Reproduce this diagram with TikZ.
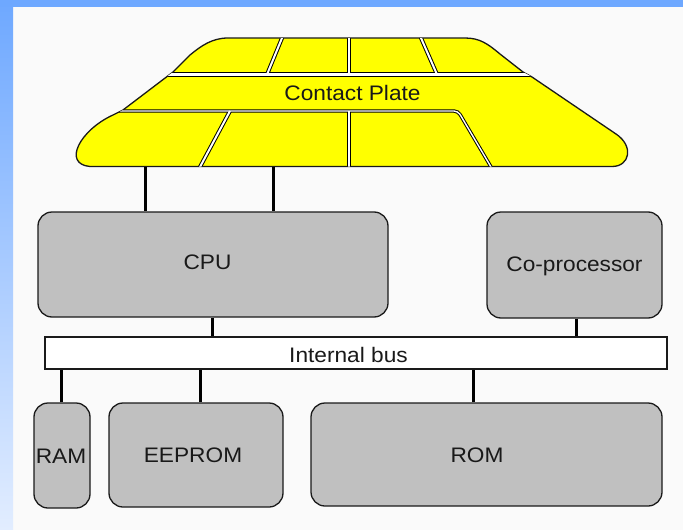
\documentclass[tikz,border=0pt]{standalone}
\usepackage{fontspec}
\setmainfont{Liberation Sans}[FakeStretch=1.08]
\definecolor{pagebg}{HTML}{FAFAFA}
\definecolor{frameblue}{HTML}{6EA8FF}
\definecolor{framepale}{HTML}{E2EDFF}
\definecolor{chipgray}{HTML}{C0C0C0}
\definecolor{plateyellow}{HTML}{FFFF00}
\definecolor{inkline}{HTML}{1A1A1A}

% outline of the smart-card contact plate
\newcommand\platepath{(228,38) .. controls (212,38) and (201,46) .. (190,55)
  -- (173,72) -- (123,110) -- (113,115)
  .. controls (80,130) and (62,164) .. (90,166.5) -- (612,166.5)
  .. controls (630,166.5) and (634,146) .. (616,134)
  -- (532,77) -- (523,72) -- (500,54)
  .. controls (488,44) and (480,38) .. (465,38) -- cycle}

% gaps separating the individual contact pads
\newcommand\platedividers{%
  \draw[gapmid] (285.3,30) -- (267,74.5);
  \draw[gapmid] (349,30) -- (349,74.5);
  \draw[gapmid] (417.5,30) -- (437,74.5);
  \draw[gapmid] (230,111) -- (193,180);
  \draw[gapmid] (349,111) -- (349,180);
  \draw[gapwide] (60,74.5) -- (620,74.5);
  \draw[gapnarrow, rounded corners=4pt] (40,111) -- (458,111) -- (498.7,180);
}

\begin{document}
\begin{tikzpicture}[x=1pt, y=-1pt,
  chip/.style={draw=inkline, line width=1.3pt, fill=chipgray,
    rounded corners=14pt, inner sep=0pt},
  busbar/.style={draw=inkline, line width=1.3pt, fill=white, inner sep=0pt},
  lbl/.style={font=\fontsize{21pt}{24pt}\selectfont, text=black!90,
    inner sep=0pt, text height=15pt, text depth=0pt},
  wire/.style={line width=3pt, black}]

\useasboundingbox (0,0) rectangle (683,530);

% page background and frame
\fill[pagebg] (0,0) rectangle (683,530);
\shade[top color=frameblue, bottom color=framepale] (0,0) rectangle (13,530);
\fill[frameblue] (0,0) rectangle (683,6.5);

% contact plate
\fill[plateyellow] \platepath;
\begin{scope}
  \clip \platepath;
  \begin{scope}[black, gapwide/.style={line width=5pt},
      gapmid/.style={line width=4pt}, gapnarrow/.style={line width=3.4pt}]
    \platedividers
  \end{scope}
\end{scope}
\draw[inkline, line width=1.3pt] \platepath;
\begin{scope}
  \clip \platepath;
  \begin{scope}[white, gapwide/.style={line width=3pt},
      gapmid/.style={line width=2pt}, gapnarrow/.style={line width=1.4pt}]
    \platedividers
  \end{scope}
\end{scope}
\node[lbl] (platelabel) at (352.5,93) {Contact Plate};
\coordinate (p1) at (145,166.5);
\coordinate (p2) at (273,166.5);

% processing units
\node[chip, minimum width=350pt, minimum height=105pt,
  label={[lbl, xshift=-5.5pt, yshift=3pt]center:CPU}] (cpu) at (213,264.5) {};
\node[chip, minimum width=175pt, minimum height=106pt,
  label={[lbl, yshift=1pt]center:Co-processor}] (cop) at (574.5,265) {};

% internal bus
\node[busbar, minimum width=622pt, minimum height=32pt,
  label={[lbl, xshift=-7.5pt, yshift=-1.5pt]center:Internal bus}] (bus) at (356,353) {};

% memories
\node[chip, minimum width=56pt, minimum height=105pt,
  label={[lbl, xshift=-1pt]center:RAM}] (ram) at (62,455.5) {};
\node[chip, minimum width=174pt, minimum height=104pt,
  label={[lbl, xshift=-3pt]center:EEPROM}] (eep) at (196,455) {};
\node[chip, minimum width=351pt, minimum height=103pt,
  label={[lbl, xshift=-9.5pt]center:ROM}] (rom) at (486.5,454.5) {};

% connections
\draw[wire] (p1) -- (p1 |- cpu.north);
\draw[wire] (p2) -- (p2 |- cpu.north);
\draw[wire] ([xshift=-1pt]cpu.south) -- ([xshift=-1pt]cpu.south |- bus.north);
\draw[wire] ([xshift=1.5pt]cop.south) -- ([xshift=1.5pt]cop.south |- bus.north);
\draw[wire] ([xshift=-1pt]ram.north) -- ([xshift=-1pt]ram.north |- bus.south);
\draw[wire] ([xshift=4pt]eep.north) -- ([xshift=4pt]eep.north |- bus.south);
\draw[wire] ([xshift=-13pt]rom.north) -- ([xshift=-13pt]rom.north |- bus.south);
\end{tikzpicture}
\end{document}
